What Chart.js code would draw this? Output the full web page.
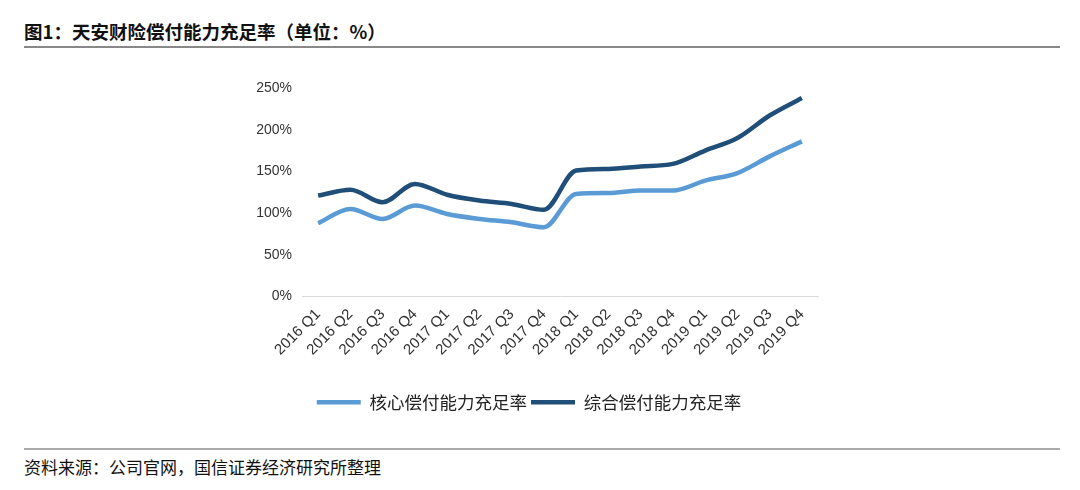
<!DOCTYPE html>
<html>
<head>
<meta charset="utf-8">
<script src="https://cdn.jsdelivr.net/npm/chart.js@4"></script>
<style>
  body { margin: 0; width: 1080px; height: 490px; background: #fff; position: relative; overflow: hidden;
         font-family: "Noto Sans CJK SC", "Liberation Sans", sans-serif; }
  #title { position: absolute; left: 24px; top: 18px; font-size: 18.5px; font-weight: bold; color: #111; line-height: 26px; }
  #topLine { position: absolute; left: 24px; top: 46px; width: 1036px; height: 2px; background: #888; }
  #bottomLine { position: absolute; left: 24px; top: 448px; width: 1036px; height: 2px; background: #aaa; }
  #source { position: absolute; left: 24px; top: 454px; font-size: 17px; color: #111; line-height: 26px; }
  #wrap { position: absolute; left: 0; top: 60px; width: 1080px; height: 370px; }
</style>
</head>
<body>
<div id="title">图1：天安财险偿付能力充足率（单位：%）</div>
<div id="topLine"></div>
<div id="wrap"><canvas id="ChartCanvas"></canvas></div>
<div id="bottomLine"></div>
<div id="source">资料来源：公司官网，国信证券经济研究所整理</div>
<script>
const categories = ['2016 Q1', '2016 Q2', '2016 Q3', '2016 Q4', '2017 Q1', '2017 Q2', '2017 Q3', '2017 Q4',
                    '2018 Q1', '2018 Q2', '2018 Q3', '2018 Q4', '2019 Q1', '2019 Q2', '2019 Q3', '2019 Q4'];

// 核心偿付能力充足率 (%)
const coreRatio = [88, 105, 93, 109, 99, 93, 89, 83, 123, 124, 127, 127, 139, 148, 168, 186];

// 综合偿付能力充足率 (%)
const compositeRatio = [121, 128, 113, 135, 122, 115, 111, 104, 151, 153, 156, 159, 175, 190, 217, 238];

const yTicks = [0, 50, 100, 150, 200, 250];

Initialize();

function Initialize()
{
    const ctx = document.getElementById('ChartCanvas').getContext('2d');

    new Chart(ctx, {
        type: 'line',
        data: {
            labels: categories,
            datasets: [{
                label: '核心偿付能力充足率',
                data: coreRatio,
                borderColor: '#5b9bd5',
                backgroundColor: '#5b9bd5',
                borderWidth: 4.5,
                pointRadius: 0,
                tension: 0.4,
                cubicInterpolationMode: 'monotone'
            }, {
                label: '综合偿付能力充足率',
                data: compositeRatio,
                borderColor: '#1f4e79',
                backgroundColor: '#1f4e79',
                borderWidth: 4.5,
                pointRadius: 0,
                tension: 0.4,
                cubicInterpolationMode: 'monotone'
            }]
        },
        options: {
            responsive: true,
            maintainAspectRatio: false,
            animation: false,
            layout: {
                padding: { left: 240, right: 262, top: 28, bottom: 9 }
            },
            plugins: {
                tooltip: { enabled: false },
                legend: {
                    position: 'bottom',
                    labels: {
                        usePointStyle: true,
                        pointStyle: 'line',
                        pointStyleWidth: 44,
                        boxWidth: 44,
                        padding: 4,
                        color: '#222',
                        font: { family: '"Noto Sans CJK SC", sans-serif', size: 17.5 }
                    }
                }
            },
            scales: {
                x: {
                    offset: true,
                    afterFit: function (scale) { scale.height = 93; },
                    grid: { display: false, drawTicks: false },
                    border: { color: '#d9d9d9', width: 1 },
                    ticks: {
                        minRotation: 45,
                        maxRotation: 45,
                        padding: 9,
                        color: '#333',
                        font: { family: '"Liberation Sans", Arial, sans-serif', size: 15 }
                    }
                },
                y: {
                    min: 0,
                    max: 250,
                    afterFit: function (scale) { scale.width = 62; },
                    afterBuildTicks: function (scale) { scale.ticks = yTicks.map(v => ({ value: v })); },
                    grid: { display: false, drawTicks: false },
                    border: { display: false },
                    ticks: {
                        padding: 10,
                        color: '#333',
                        font: { family: '"Liberation Sans", Arial, sans-serif', size: 14 },
                        callback: function (value) { return value + '%'; }
                    }
                }
            }
        }
    });
}
</script>
</body>
</html>
